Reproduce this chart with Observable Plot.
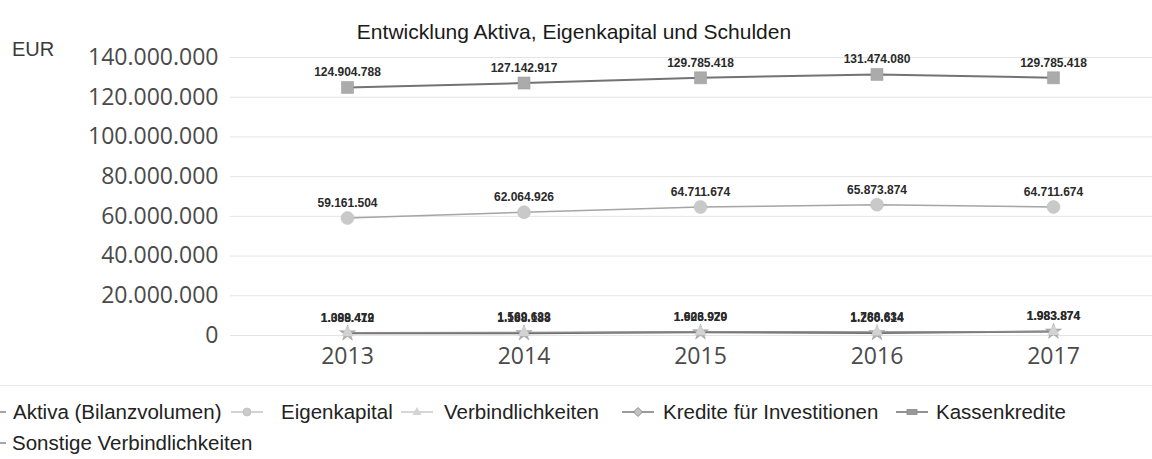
<!DOCTYPE html>
<html>
<head>
<meta charset="utf-8">
<script src="https://cdn.jsdelivr.net/npm/d3@7"></script>
<script src="https://cdn.jsdelivr.net/npm/@observablehq/plot@0.6"></script>
<style>
  html, body { margin: 0; padding: 0; background: #fff; }
  #wrap { position: relative; width: 1152px; height: 459px; overflow: hidden; background: #fff; }
  #chart { position: absolute; left: 0; top: 0; }
  #title { position: absolute; left: 0; top: 20px; width: 1148px; text-align: center;
           font-family: "Liberation Sans", Arial, sans-serif; font-size: 21px; color: #1a1a1a; }
  #unit { position: absolute; left: 12px; top: 38px; font-family: "Liberation Sans", Arial, sans-serif;
          font-size: 20px; color: #3a3a3a; }
  #sep { position: absolute; left: 0; top: 385px; width: 1152px; height: 1px; background: #ececec; }
  .leg { position: absolute; font-family: "Liberation Sans", Arial, sans-serif; font-size: 20.5px;
         color: #222; white-space: nowrap; line-height: 1; }
  .sw { position: absolute; }
</style>
</head>
<body>
<div id="wrap">
  <div id="chart"></div>
  <div id="title">Entwicklung Aktiva, Eigenkapital und Schulden</div>
  <div id="unit">EUR</div>
  <div id="sep"></div>
  <div id="legend"></div>
</div>
<script>
// ---- data ----
const years = [2013, 2014, 2015, 2016, 2017];
const aktiva = [124904788, 127142917, 129785418, 131474080, 129785418];
const eigenkapital = [59161504, 62064926, 64711674, 65873874, 64711674];
const verbindlichkeiten = [1388479, 1569633, 1903979, 1788634, 1983874];
const sonstigeVerbindlichkeiten = [1099412, 1188188, 1626920, 1260614, 1983874];
const yTicks = [0, 20000000, 40000000, 60000000, 80000000, 100000000, 120000000, 140000000];
const seriesNames = ["Aktiva (Bilanzvolumen)", "Eigenkapital", "Verbindlichkeiten",
                     "Kredite für Investitionen", "Kassenkredite", "Sonstige Verbindlichkeiten"];
const chartTitle = "Entwicklung Aktiva, Eigenkapital und Schulden";

const de = d3.formatLocale({decimal: ",", thousands: ".", grouping: [3], currency: ["", " €"]});
const fmt = de.format(",");

const toRows = (vals) => years.map((y, i) => ({year: y, value: vals[i]}));
const rowsAktiva = toRows(aktiva);
const rowsEigen = toRows(eigenkapital);
const rowsVerb = toRows(verbindlichkeiten);
const rowsSonst = toRows(sonstigeVerbindlichkeiten);

const labelOpts = {x: "year", y: "value", text: d => fmt(d.value), dy: -15,
  fontSize: 12, fontWeight: "bold", fontFamily: "Liberation Sans, Arial, sans-serif", fill: "#2a2a2a"};

const plot = Plot.plot({
  width: 1152, height: 392,
  marginLeft: 230, marginRight: 0, marginTop: 57, marginBottom: 57,
  x: {domain: [2012.337, 2017.561]},
  y: {domain: [0, 140000000]},
  style: {fontFamily: "'Open Sans', sans-serif", fontSize: "23px", color: "#4a4a4a", background: "transparent", overflow: "visible"},
  marks: [
    Plot.ruleY(yTicks, {stroke: "#e4e4e4", strokeWidth: 1}),
    Plot.axisY({ticks: yTicks, tickSize: 0, tickPadding: 12, tickFormat: fmt, label: null}),
    Plot.axisX({ticks: years, tickSize: 0, tickPadding: 12, tickFormat: d => String(d), label: null}),
    // bottom cluster
    Plot.line(rowsSonst, {x: "year", y: "value", stroke: "#6a6a6a", strokeWidth: 2}),
    Plot.line(rowsVerb, {x: "year", y: "value", stroke: "#8a8a8a", strokeWidth: 1.5}),
    Plot.dot(rowsSonst, {x: "year", y: "value", symbol: "star", r: 5, fill: "#b0b0b0", stroke: "#999", strokeWidth: 0.5}),
    Plot.dot(rowsVerb, {x: "year", y: "value", symbol: "triangle", r: 4.5, fill: "#d2d2d2", stroke: "none"}),
    // Eigenkapital
    Plot.line(rowsEigen, {x: "year", y: "value", stroke: "#a5a5a5", strokeWidth: 1.5}),
    Plot.dot(rowsEigen, {x: "year", y: "value", symbol: "circle", r: 6.5, fill: "#c9c9c9", stroke: "#bdbdbd", strokeWidth: 0.5}),
    // Aktiva
    Plot.line(rowsAktiva, {x: "year", y: "value", stroke: "#737373", strokeWidth: 2}),
    Plot.dot(rowsAktiva, {x: "year", y: "value", symbol: "square", r: 6.8, fill: "#ababab", stroke: "#9a9a9a", strokeWidth: 0.5}),
    // labels
    Plot.text(rowsSonst, labelOpts),
    Plot.text(rowsVerb, labelOpts),
    Plot.text(rowsEigen, labelOpts),
    Plot.text(rowsAktiva, labelOpts)
  ]
});
document.getElementById("chart").appendChild(plot);
document.getElementById("title").textContent = chartTitle;

// ---- legend ----
const legendItems = [
  {name: seriesNames[0], sw: -27, tx: 13, row: 0, line: "#888", marker: "square", fill: "#aaa", stroke: "#999"},
  {name: seriesNames[1], sw: 230, tx: 281, row: 0, line: "#c4c4c4", marker: "circle", fill: "#cacaca", stroke: "#c0c0c0"},
  {name: seriesNames[2], sw: 400, tx: 444, row: 0, line: "#c8c8c8", marker: "triangle", fill: "#d4d4d4", stroke: "none"},
  {name: seriesNames[3], sw: 621, tx: 663, row: 0, line: "#7a7a7a", marker: "diamond", fill: "#c4c4c4", stroke: "#777"},
  {name: seriesNames[4], sw: 895, tx: 936, row: 0, line: "#6e6e6e", marker: "rect", fill: "#9a9a9a", stroke: "#888"},
  {name: seriesNames[5], sw: -27, tx: 12, row: 1, line: "#888", marker: "star", fill: "#aaa", stroke: "#999"}
];
const rowY = [412, 443];
const legend = document.getElementById("legend");
const ns = "http://www.w3.org/2000/svg";
for (const it of legendItems) {
  const svg = document.createElementNS(ns, "svg");
  svg.setAttribute("width", 34); svg.setAttribute("height", 14);
  svg.setAttribute("class", "sw");
  svg.style.left = it.sw + "px"; svg.style.top = (rowY[it.row] - 7) + "px";
  const ln = document.createElementNS(ns, "line");
  ln.setAttribute("x1", 1); ln.setAttribute("x2", 33); ln.setAttribute("y1", 7); ln.setAttribute("y2", 7);
  ln.setAttribute("stroke", it.line); ln.setAttribute("stroke-width", 1.5);
  svg.appendChild(ln);
  let m;
  if (it.marker === "circle") {
    m = document.createElementNS(ns, "circle"); m.setAttribute("cx", 17); m.setAttribute("cy", 7); m.setAttribute("r", 4);
  } else if (it.marker === "square") {
    m = document.createElementNS(ns, "rect"); m.setAttribute("x", 13); m.setAttribute("y", 3); m.setAttribute("width", 8); m.setAttribute("height", 8);
  } else if (it.marker === "rect") {
    m = document.createElementNS(ns, "rect"); m.setAttribute("x", 12); m.setAttribute("y", 4.5); m.setAttribute("width", 10); m.setAttribute("height", 5);
  } else if (it.marker === "triangle") {
    m = document.createElementNS(ns, "path"); m.setAttribute("d", "M17,2 L21.5,10 L12.5,10 Z");
  } else if (it.marker === "diamond") {
    m = document.createElementNS(ns, "path"); m.setAttribute("d", "M17,2.5 L21.5,7 L17,11.5 L12.5,7 Z");
  } else {
    m = document.createElementNS(ns, "path"); m.setAttribute("d", "M17,2 L18.5,6 L22,6 L19,8.5 L20,12 L17,10 L14,12 L15,8.5 L12,6 L15.5,6 Z");
  }
  m.setAttribute("fill", it.fill); m.setAttribute("stroke", it.stroke); m.setAttribute("stroke-width", 0.8);
  svg.appendChild(m);
  legend.appendChild(svg);
  const t = document.createElement("div");
  t.className = "leg";
  t.textContent = it.name;
  t.style.left = it.tx + "px";
  t.style.top = (rowY[it.row] - 10) + "px";
  legend.appendChild(t);
}
</script>
</body>
</html>
